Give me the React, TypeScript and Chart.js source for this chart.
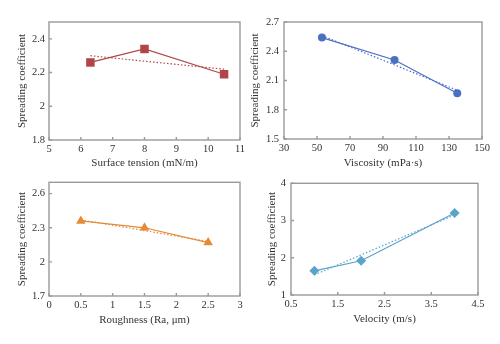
import React, { useEffect, useRef } from "react";
import { Chart, registerables } from "chart.js";
Chart.register(...registerables);

// ---- Data ----
const surfaceX = [6.3, 8, 10.5];
const surfaceY = [2.26, 2.34, 2.19];
const surfaceTrendX = [6.3, 10.5];
const surfaceTrendY = [2.3, 2.22];
const surfaceXTicks = [5, 6, 7, 8, 9, 10, 11];
const surfaceYTicks = [1.8, 2, 2.2, 2.4];

const viscX = [53, 97, 135];
const viscY = [2.54, 2.31, 1.97];
const viscTrendX = [53, 135];
const viscTrendY = [2.56, 2.0];
const viscXTicks = [30, 50, 70, 90, 110, 130, 150];
const viscYTicks = [1.5, 1.8, 2.1, 2.4, 2.7];

const roughX = [0.5, 1.5, 2.5];
const roughY = [2.36, 2.3, 2.17];
const roughTrendX = [0.5, 2.5];
const roughTrendY = [2.37, 2.18];
const roughXTicks = [0, 0.5, 1, 1.5, 2, 2.5, 3];
const roughYTicks = [1.7, 2, 2.3, 2.6];

const velX = [1, 2, 4];
const velY = [1.65, 1.92, 3.2];
const velTrendX = [1, 4];
const velTrendY = [1.54, 3.15];
const velXTicks = [0.5, 1.5, 2.5, 3.5, 4.5];
const velYTicks = [1, 2, 3, 4];

const FONT = "'Liberation Serif', 'Times New Roman', serif";
const TEXT = "#333333";
const AXIS = "#9a9a9a";

const W = 250;
const H = 172;

type PanelSpec = {
  left: number;
  top: number;
  xs: number[];
  ys: number[];
  txs: number[];
  tys: number[];
  xTicks: number[];
  yTicks: number[];
  xMin: number;
  xMax: number;
  yMin: number;
  yMax: number;
  xTitle: string;
  color: string;
  pointStyle: string;
  pointRadius: number;
  area: { L: number; R: number; T: number; B: number };
  yTitleCx: number;
  xTitleCy: number;
  yTickPad: number;
  xTickPad: number;
};

const fmt = (v: any) => String(Number(Number(v).toFixed(2)));

const framePlugin = {
  id: "frame",
  beforeDatasetsDraw(chart: any) {
    const { ctx, chartArea: a } = chart;
    const xs = chart.scales.x;
    const ys = chart.scales.y;
    ctx.save();
    ctx.strokeStyle = AXIS;
    ctx.lineWidth = 1.4;
    ctx.strokeRect(a.left, a.top, a.right - a.left, a.bottom - a.top);
    ctx.beginPath();
    xs.ticks.forEach((t: any) => {
      const px = xs.getPixelForValue(t.value);
      ctx.moveTo(px, a.bottom);
      ctx.lineTo(px, a.bottom - 3);
    });
    ys.ticks.forEach((t: any) => {
      const py = ys.getPixelForValue(t.value);
      ctx.moveTo(a.left, py);
      ctx.lineTo(a.left + 3, py);
    });
    ctx.stroke();
    ctx.restore();
  },
};

function Panel({ spec }: { spec: PanelSpec }) {
  const ref = useRef<HTMLCanvasElement | null>(null);
  useEffect(() => {
    if (!ref.current) return;
    const s = spec;
    const titleFont = { family: FONT, size: 11, lineHeight: 1 };
    const tickFont = { family: FONT, size: 10.5, lineHeight: 1.2 };
    const chart = new Chart(ref.current, {
      type: "line",
      data: {
        datasets: [
          {
            data: s.xs.map((x, i) => ({ x, y: s.ys[i] })),
            borderColor: s.color,
            backgroundColor: s.color,
            borderWidth: 1.2,
            pointStyle: s.pointStyle as any,
            pointRadius: s.pointRadius,
            pointBorderWidth: 0,
          },
          {
            data: s.txs.map((x, i) => ({ x, y: s.tys[i] })),
            borderColor: s.color,
            borderWidth: 1.2,
            borderDash: [1.5, 2],
            pointRadius: 0,
          },
        ],
      },
      options: {
        animation: false,
        responsive: false,
        maintainAspectRatio: false,
        layout: {
          padding: { left: 0, right: W - s.area.R, top: s.area.T, bottom: 0 },
        },
        plugins: { legend: { display: false }, tooltip: { enabled: false } },
        scales: {
          x: {
            type: "linear",
            min: s.xMin,
            max: s.xMax,
            afterBuildTicks: (sc: any) => {
              sc.ticks = s.xTicks.map((v) => ({ value: v }));
            },
            afterFit: (sc: any) => {
              sc.height = H - s.area.B;
            },
            grid: { display: false, drawTicks: false },
            border: { display: false },
            ticks: {
              padding: s.xTickPad,
              font: tickFont,
              color: TEXT,
              callback: fmt,
              maxRotation: 0,
              autoSkip: false,
            },
            title: {
              display: true,
              text: s.xTitle,
              font: titleFont,
              color: TEXT,
              padding: { top: 0, bottom: H - s.xTitleCy - 5.5 },
            },
          },
          y: {
            type: "linear",
            min: s.yMin,
            max: s.yMax,
            afterBuildTicks: (sc: any) => {
              sc.ticks = s.yTicks.map((v) => ({ value: v }));
            },
            afterFit: (sc: any) => {
              sc.width = s.area.L;
            },
            grid: { display: false, drawTicks: false },
            border: { display: false },
            ticks: {
              padding: s.yTickPad,
              font: tickFont,
              color: TEXT,
              callback: fmt,
              autoSkip: false,
            },
            title: {
              display: true,
              text: "Spreading coefficient",
              font: titleFont,
              color: TEXT,
              padding: { top: Math.max(0, s.yTitleCx - 5.5), bottom: 0 },
            },
          },
        },
      },
      plugins: [framePlugin],
    } as any);
    return () => chart.destroy();
  }, [spec]);
  return (
    <canvas
      ref={ref}
      width={W}
      height={H}
      style={{ position: "absolute", left: spec.left, top: spec.top, width: W, height: H }}
    />
  );
}

const panels: PanelSpec[] = [
  {
    left: 0, top: 0,
    xs: surfaceX, ys: surfaceY, txs: surfaceTrendX, tys: surfaceTrendY,
    xTicks: surfaceXTicks, yTicks: surfaceYTicks,
    xMin: 5, xMax: 11, yMin: 1.8, yMax: 2.5,
    xTitle: "Surface tension (mN/m)",
    color: "#b04649", pointStyle: "rect", pointRadius: 6,
    area: { L: 49, R: 240, T: 22, B: 140 },
    yTitleCx: 22, xTitleCy: 163, yTickPad: 4, xTickPad: 3,
  },
  {
    left: 250, top: 0,
    xs: viscX, ys: viscY, txs: viscTrendX, tys: viscTrendY,
    xTicks: viscXTicks, yTicks: viscYTicks,
    xMin: 30, xMax: 150, yMin: 1.5, yMax: 2.7,
    xTitle: "Viscosity (mPa·s)",
    color: "#4a70c2", pointStyle: "circle", pointRadius: 4,
    area: { L: 34, R: 232, T: 22, B: 139 },
    yTitleCx: 5, xTitleCy: 163, yTickPad: 5, xTickPad: 3,
  },
  {
    left: 0, top: 172,
    xs: roughX, ys: roughY, txs: roughTrendX, tys: roughTrendY,
    xTicks: roughXTicks, yTicks: roughYTicks,
    xMin: 0, xMax: 3, yMin: 1.7, yMax: 2.7,
    xTitle: "Roughness (Ra, μm)",
    color: "#e58a36", pointStyle: "triangle", pointRadius: 5.5,
    area: { L: 49, R: 240, T: 6, B: 124 },
    yTitleCx: 22, xTitleCy: 148, yTickPad: 4, xTickPad: 3,
  },
  {
    left: 250, top: 172,
    xs: velX, ys: velY, txs: velTrendX, tys: velTrendY,
    xTicks: velXTicks, yTicks: velYTicks,
    xMin: 0.5, xMax: 4.5, yMin: 1, yMax: 4,
    xTitle: "Velocity (m/s)",
    color: "#5aa3cc", pointStyle: "rectRot", pointRadius: 5,
    area: { L: 41, R: 228, T: 6, B: 123 },
    yTitleCx: 22, xTitleCy: 147, yTickPad: 5, xTickPad: 3,
  },
];

export default function App() {
  return (
    <div style={{ position: "fixed", left: 0, top: 0, width: 500, height: 344, background: "#fff" }}>
      {panels.map((p, i) => (
        <Panel key={i} spec={p} />
      ))}
    </div>
  );
}
